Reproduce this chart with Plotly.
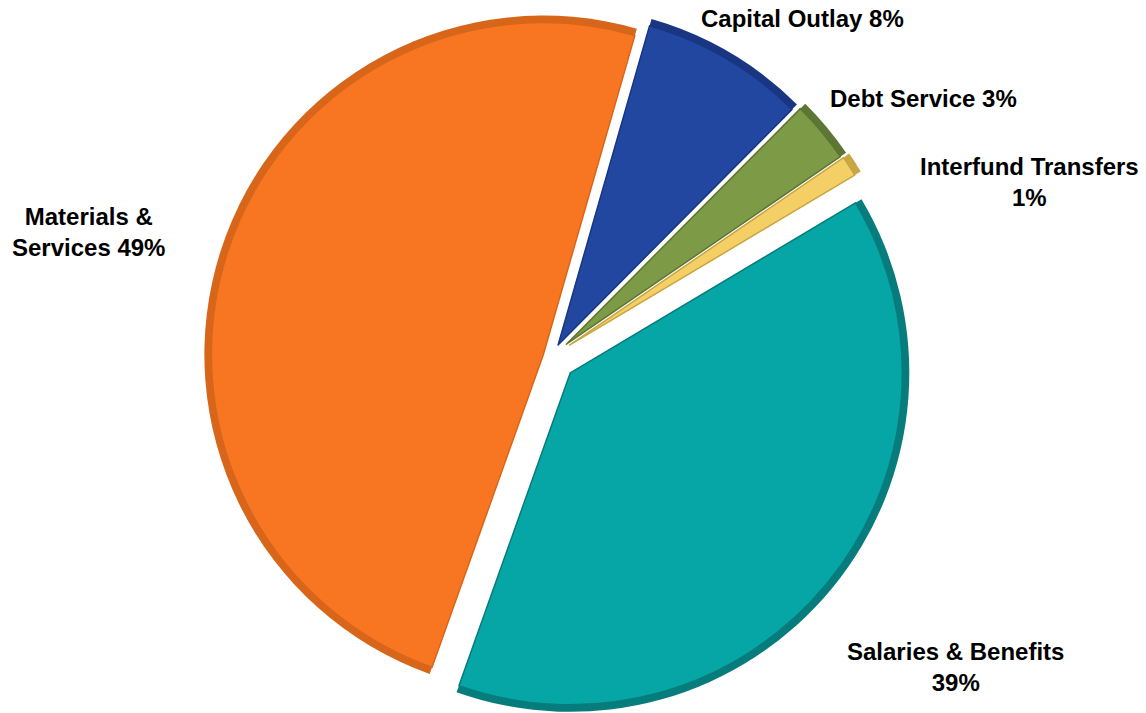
import math
import plotly.graph_objects as go

# Budget shares by expenditure category (clockwise from the top)
categories = ["Capital Outlay", "Debt Service", "Interfund Transfers",
              "Salaries & Benefits", "Materials & Services"]
percent = [8, 3, 1, 39, 49]
# number of words kept on the first line of each label (0 = one line)
label_split = [0, 0, 2, 3, 2]

# ---- styling / layout -------------------------------------------------------
W, H = 1146, 713
RADIUS = 339
BEVEL = 7
ROTATION = 16
CENTER = (551, 357)
FONT = "Arial, 'Liberation Sans', sans-serif"

face_colors = ["#2247A0", "#7D9B47", "#F3CF66", "#06A6A6", "#F87622"]
edge_colors = ["#193683", "#5C7633", "#C9A643", "#077C7C", "#D8661A"]

# how far each wedge is exploded from the common centre (px)
explode_px = [14, 20, 22, 25, 8]

# label anchor points (pixel centres)
label_pos = [(802, 19), (923, 98), (1029, 182), (955, 667), (88, 232)]

CLEAR = "rgba(0,0,0,0)"


def wedge_centres():
    """Exploded centre of every wedge, along its bisector."""
    total = sum(percent)
    start = 0.0
    out = []
    for v, off in zip(percent, explode_px):
        mid = math.radians(ROTATION + 360 * (start + v / 2) / total)
        out.append((CENTER[0] + off * math.sin(mid), CENTER[1] - off * math.cos(mid)))
        start += v
    return out


def domain_for(center, radius):
    cx, cy = center
    clip = lambda v: min(1.0, max(0.0, v))
    return dict(
        x=[clip((cx - radius) / W), clip((cx + radius) / W)],
        y=[clip(1 - (cy + radius) / H), clip(1 - (cy - radius) / H)],
    )


def wedge_layer(idx, center, radius, colors, line_width):
    show = [i == idx for i in range(len(categories))]
    return go.Pie(
        labels=categories,
        values=percent,
        sort=False,
        direction="clockwise",
        rotation=ROTATION,
        textinfo="none",
        hoverinfo="label+percent",
        showlegend=False,
        marker=dict(
            colors=[c if s else CLEAR for c, s in zip(colors, show)],
            line=dict(color=[c if s else CLEAR for c, s in zip(edge_colors, show)],
                      width=line_width),
        ),
        domain=domain_for(center, radius),
    )


fig = go.Figure()
centres = wedge_centres()
# darker rim underneath, face colour on top
for i, c in enumerate(centres):
    fig.add_trace(wedge_layer(i, c, RADIUS, edge_colors, 0))
for i, c in enumerate(centres):
    fig.add_trace(wedge_layer(i, c, RADIUS - BEVEL, face_colors, 1.5))


def label_text(name, pct, split):
    words = f"{name} {pct}%".split(" ")
    if split:
        return " ".join(words[:split]) + "<br>" + " ".join(words[split:])
    return " ".join(words)


annotations = []
for name, pct, split, (px, py) in zip(categories, percent, label_split, label_pos):
    annotations.append(dict(
        text=f"<b>{label_text(name, pct, split)}</b>",
        x=px / W, y=1 - py / H, xref="paper", yref="paper",
        xanchor="center", yanchor="middle", align="center",
        showarrow=False,
        font=dict(family=FONT, size=24, color="#000000"),
    ))

fig.update_layout(
    width=W, height=H,
    margin=dict(l=0, r=0, t=0, b=0),
    paper_bgcolor="white",
    plot_bgcolor="white",
    annotations=annotations,
)

fig.write_html("out.html")
